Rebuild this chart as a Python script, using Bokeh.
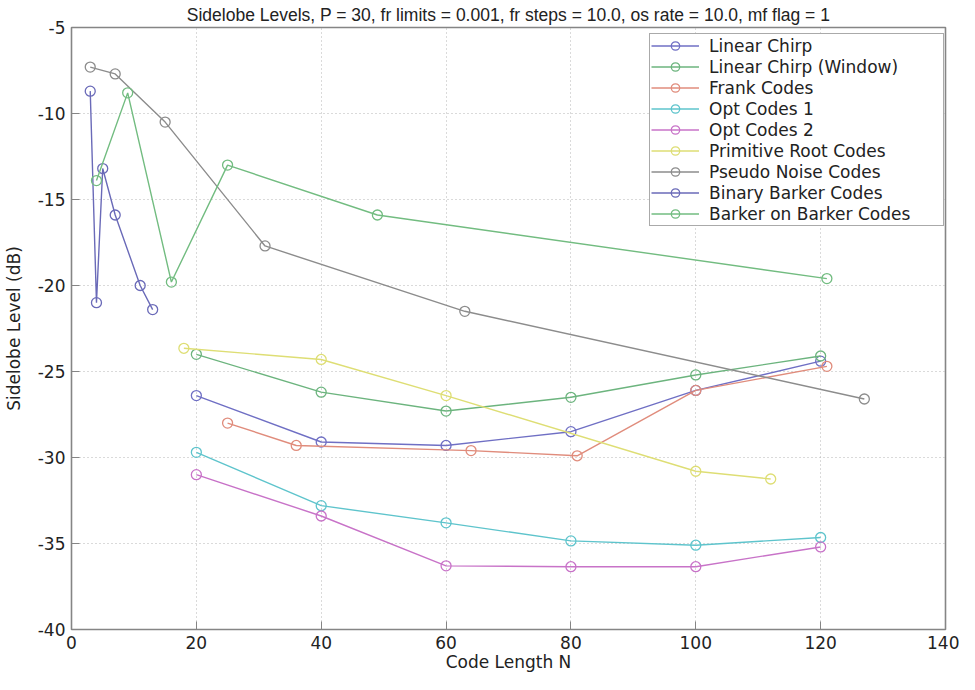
from bokeh.plotting import figure
from bokeh.models import Range1d, FixedTicker, Legend, LegendItem
from bokeh.embed import file_html
from bokeh.resources import INLINE

# ---------------- data ----------------
series_names = ["Linear Chirp", "Linear Chirp (Window)", "Frank Codes", "Opt Codes 1",
                "Opt Codes 2", "Primitive Root Codes", "Pseudo Noise Codes",
                "Binary Barker Codes", "Barker on Barker Codes"]

linear_chirp_n = [20, 40, 60, 80, 100, 120]
linear_chirp_db = [-26.4, -29.1, -29.3, -28.5, -26.1, -24.4]

window_n = [20, 40, 60, 80, 100, 120]
window_db = [-24.0, -26.2, -27.3, -26.5, -25.2, -24.1]

frank_n = [25, 36, 64, 81, 100, 121]
frank_db = [-28.0, -29.3, -29.6, -29.9, -26.1, -24.7]

opt1_n = [20, 40, 60, 80, 100, 120]
opt1_db = [-29.7, -32.8, -33.8, -34.85, -35.1, -34.65]

opt2_n = [20, 40, 60, 80, 100, 120]
opt2_db = [-31.0, -33.4, -36.3, -36.35, -36.35, -35.2]

prim_n = [18, 40, 60, 100, 112]
prim_db = [-23.65, -24.3, -26.4, -30.8, -31.25]

pn_n = [3, 7, 15, 31, 63, 127]
pn_db = [-7.3, -7.7, -10.5, -17.7, -21.5, -26.6]

barker_n = [3, 4, 5, 7, 11, 13]
barker_db = [-8.7, -21.0, -13.2, -15.9, -20.0, -21.4]

bob_n = [4, 9, 16, 25, 49, 121]
bob_db = [-13.9, -8.8, -19.8, -13.0, -15.9, -19.6]

x_ticks = [0, 20, 40, 60, 80, 100, 120, 140]
y_ticks = [-40, -35, -30, -25, -20, -15, -10, -5]

colors = ["#6f6fc4", "#6cb47e", "#e08c7c", "#5ec4cc", "#c873c8",
          "#dede74", "#8c8c8c", "#6a6ab8", "#72bc80"]

all_n = [linear_chirp_n, window_n, frank_n, opt1_n, opt2_n, prim_n, pn_n, barker_n, bob_n]
all_db = [linear_chirp_db, window_db, frank_db, opt1_db, opt2_db, prim_db, pn_db, barker_db, bob_db]

FONT = "DejaVu Sans"
TITLE_FONT = "Liberation Sans"

p = figure(width=959, height=674, output_backend="svg", toolbar_location=None,
           x_range=Range1d(0, 140), y_range=Range1d(-40, -5),
           min_border_left=66, min_border_right=14, min_border_top=25, min_border_bottom=45,
           background_fill_color="white", border_fill_color="white")

p.title.text = "Sidelobe Levels, P = 30, fr limits = 0.001, fr steps = 10.0, os rate = 10.0, mf flag = 1"
p.title.align = "center"
p.title.text_font = TITLE_FONT
p.title.text_font_size = "17.5px"
p.title.text_font_style = "normal"
p.title.text_color = "#222222"
p.title.standoff = 5

p.outline_line_color = "#858585"
p.outline_line_width = 1.6

for ax in [p.xaxis[0], p.yaxis[0]]:
    ax.major_label_text_font = FONT
    ax.major_label_text_font_size = "17px"
    ax.major_label_text_color = "#222222"
    ax.axis_label_text_font = FONT
    ax.axis_label_text_font_size = "17px"
    ax.axis_label_text_font_style = "normal"
    ax.axis_label_text_color = "#222222"
    ax.major_tick_in = 8
    ax.major_tick_out = 0
    ax.minor_tick_line_color = None
    ax.axis_line_color = "#858585"
    ax.major_tick_line_color = "#858585"

p.xaxis[0].ticker = FixedTicker(ticks=x_ticks)
p.yaxis[0].ticker = FixedTicker(ticks=y_ticks)
p.xaxis[0].major_label_overrides = {t: str(t) for t in x_ticks}
p.yaxis[0].major_label_overrides = {t: str(t) for t in y_ticks}
p.xaxis[0].axis_label = "Code Length N"
p.yaxis[0].axis_label = "Sidelobe Level (dB)"
p.xaxis[0].major_label_standoff = 6
p.xaxis[0].axis_label_standoff = 0
p.yaxis[0].major_label_standoff = 6
p.yaxis[0].axis_label_standoff = 11

p.xgrid.ticker = FixedTicker(ticks=x_ticks)
p.ygrid.ticker = FixedTicker(ticks=y_ticks)
for g in [p.xgrid[0], p.ygrid[0]]:
    g.grid_line_color = "#b4b4b4"
    g.grid_line_dash = "1 3"
    g.grid_line_width = 1

items = []
for name, xs, ys, c in zip(series_names, all_n, all_db, colors):
    r1 = p.line(xs, ys, line_color=c, line_width=1.4)
    r2 = p.scatter(xs, ys, marker="circle", size=10, fill_alpha=0, line_color=c, line_width=1.3)
    items.append(LegendItem(label=name, renderers=[r1, r2]))

legend = Legend(items=items, location=(578, 403))
legend.label_text_font = FONT
legend.label_text_font_size = "17px"
legend.label_text_color = "#222222"
legend.glyph_width = 48
legend.glyph_height = 21
legend.label_height = 21
legend.label_width = 233
legend.label_standoff = 10
legend.spacing = 0
legend.padding = 1
legend.margin = 0
legend.border_line_color = "#555555"
legend.border_line_width = 1
legend.background_fill_alpha = 1
p.add_layout(legend, "center")

open("out.html", "w").write(file_html(p, INLINE))
